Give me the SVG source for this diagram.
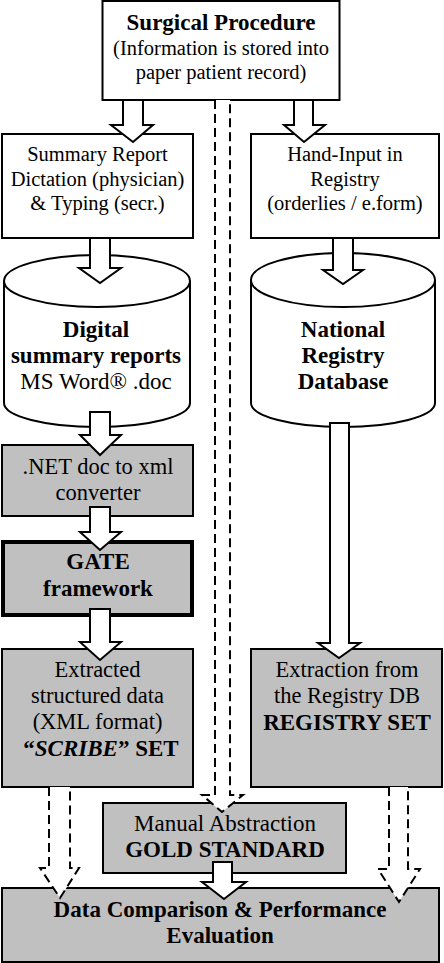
<svg xmlns="http://www.w3.org/2000/svg" width="444" height="963" viewBox="0 0 444 963">
<style>
text{font-family:"Liberation Serif","Times New Roman",serif;fill:#000;text-anchor:middle}
.s{font-size:20.5px}
.m{font-size:22.5px}
.b{font-size:23px;font-weight:bold}
.box{fill:#fff;stroke:#000;stroke-width:2}
.gbox{fill:#c0c0c0;stroke:#000;stroke-width:2}
.arr{fill:#fff;stroke:#000;stroke-width:2;stroke-linejoin:miter}
.darr{fill:#fff;stroke:#000;stroke-width:2;stroke-dasharray:9 5}
.dl{fill:none;stroke:#000;stroke-width:2;stroke-dasharray:9 5}
</style>
<rect width="444" height="963" fill="#fff"/>
<g id="surgical">
<rect class="box" x="102.5" y="1" width="237" height="99"/>
<text class="b" x="221" y="30">Surgical Procedure</text>
<text class="s" x="221" y="55">(Information is stored into</text>
<text class="s" x="221" y="79">paper patient record)</text>
</g>
<g id="summary">
<rect class="box" x="2" y="134" width="191" height="104"/>
<text class="s" x="97.5" y="161">Summary Report</text>
<text class="s" x="97.5" y="186">Dictation (physician)</text>
<text class="s" x="97.5" y="210">&amp; Typing (secr.)</text>
</g>
<g id="handinput">
<rect class="box" x="251" y="134" width="188" height="104"/>
<text class="s" x="345" y="161">Hand-Input in</text>
<text class="s" x="345" y="186">Registry</text>
<text class="s" x="345" y="210">(orderlies / e.form)</text>
</g>
<g id="digital">
<path class="box" d="M4,281 A93,26 0 0 1 190,281 V403 A93,24 0 0 1 4,403 Z M4,281 A93,26 0 0 0 190,281"/>
<text class="b" x="96" y="337">Digital</text>
<text class="b" x="96" y="363">summary reports</text>
<text class="m" x="96" y="389" style="font-size:23px">MS Word® .doc</text>
</g>
<g id="national">
<path class="box" d="M251,280 A92,27 0 0 1 435,280 V403 A92,24 0 0 1 251,403 Z M251,280 A92,27 0 0 0 435,280"/>
<text class="b" x="343" y="337">National</text>
<text class="b" x="343" y="363">Registry</text>
<text class="b" x="343" y="389">Database</text>
</g>
<g id="net">
<rect class="gbox" x="2" y="445" width="191" height="71"/>
<text class="m" x="98" y="474">.NET doc to xml</text>
<text class="m" x="98" y="500">converter</text>
</g>
<g id="gate">
<rect class="gbox" x="3" y="542" width="189" height="73" style="stroke-width:4"/>
<text class="b" x="98" y="569">GATE</text>
<text class="b" x="98" y="596">framework</text>
</g>
<g id="extracted">
<rect class="gbox" x="2" y="649" width="191" height="138"/>
<text class="m" x="97.5" y="677">Extracted</text>
<text class="m" x="97.5" y="703">structured data</text>
<text class="m" x="97.5" y="729">(XML format)</text>
<text class="b" x="101" y="756">“<tspan font-style="italic">SCRIBE</tspan>” SET</text>
</g>
<g id="registryset">
<rect class="gbox" x="251" y="649" width="191" height="138"/>
<text class="m" x="347" y="677">Extraction from</text>
<text class="m" x="347" y="703">the Registry DB</text>
<text class="b" x="347" y="730">REGISTRY SET</text>
</g>
<g id="manual">
<rect class="gbox" x="103" y="803" width="243" height="70"/>
<text class="m" x="225" y="831" style="font-size:23px">Manual Abstraction</text>
<text class="b" x="225" y="857">GOLD STANDARD</text>
</g>
<g id="comparison">
<rect class="gbox" x="2" y="888" width="437" height="74"/>
<text class="b" x="220" y="917">Data Comparison &amp; Performance</text>
<text class="b" x="220" y="943">Evaluation</text>
</g>
<g id="connectors">
<polygon class="arr" points="123,100 143,100 143,125 153,125 133,142 111,125 123,125"/>
<polygon class="arr" points="294,100 313,100 313,125 325,125 304,142 284,125 294,125"/>
<polygon class="arr" points="90,238 110,238 110,268 121,268 100,283 79,268 90,268"/>
<polygon class="arr" points="333,238 353,238 353,270 363,270 343,284 323,270 333,270"/>
<polygon class="arr" points="90,412 110,412 110,435 121,435 100,455 80,435 90,435"/>
<polygon class="arr" points="90,507 110,507 110,532 121,532 100,550 80,532 90,532"/>
<polygon class="arr" points="90,609 110,609 110,642 121,642 100,660 80,642 90,642"/>
<polygon class="arr" points="330,423 349,423 349,643 360,643 339,658 318,643 330,643"/>
<path class="darr" d="M215,100 V795 H202 L222,812 L243,795 H230 V100"/>
<path class="darr" d="M49,787 V868 H40 L60,898 L79,868 H70 V787"/>
<path class="darr" d="M389,787 V869 H378 L399,902 L420,869 H408 V787"/>
<polygon class="arr" points="213,862 232,862 232,882 246,882 224,899 202,882 213,882"/>
</g>
</svg>
